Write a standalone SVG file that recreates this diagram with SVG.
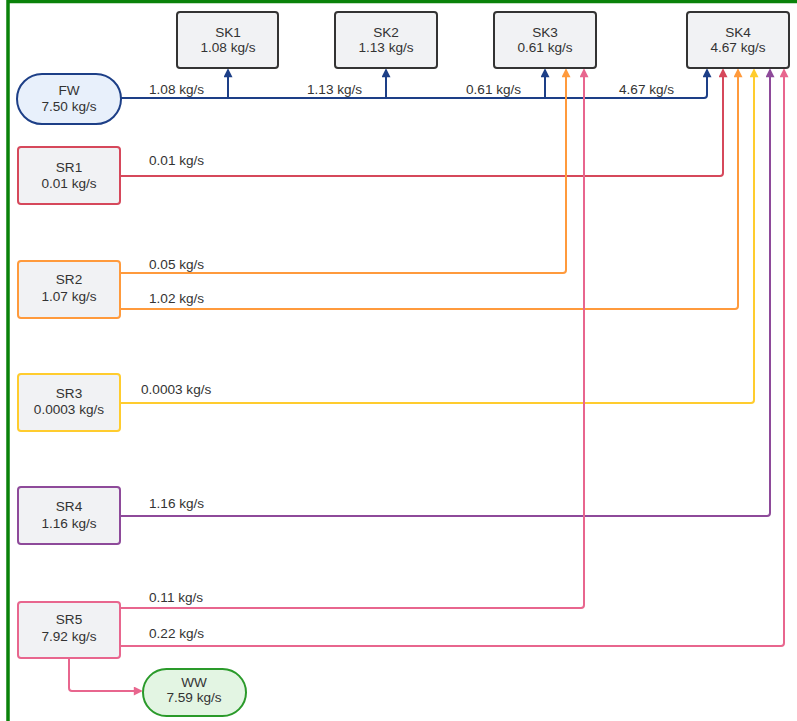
<svg xmlns="http://www.w3.org/2000/svg" width="797" height="721" viewBox="0 0 797 721">
<style>
text{font-family:"Liberation Sans",Arial,sans-serif;font-size:13.6px;fill:#333;}
.c{text-anchor:middle;}
.box{fill:#f1f2f4;stroke-width:2;}
.sk{stroke:#333;}
.ln{fill:none;stroke-width:2;}
</style>
<defs>
<marker id="aB" viewBox="0 0 10 10" refX="8" refY="5" markerWidth="10" markerHeight="9" markerUnits="userSpaceOnUse" orient="auto"><path d="M0,0 L10,5 L0,10 z" fill="#1d3f87"/></marker>
<marker id="aR" viewBox="0 0 10 10" refX="8" refY="5" markerWidth="10" markerHeight="9" markerUnits="userSpaceOnUse" orient="auto"><path d="M0,0 L10,5 L0,10 z" fill="#d6485b"/></marker>
<marker id="aO" viewBox="0 0 10 10" refX="8" refY="5" markerWidth="10" markerHeight="9" markerUnits="userSpaceOnUse" orient="auto"><path d="M0,0 L10,5 L0,10 z" fill="#ff9a3c"/></marker>
<marker id="aY" viewBox="0 0 10 10" refX="8" refY="5" markerWidth="10" markerHeight="9" markerUnits="userSpaceOnUse" orient="auto"><path d="M0,0 L10,5 L0,10 z" fill="#ffcc2e"/></marker>
<marker id="aP" viewBox="0 0 10 10" refX="8" refY="5" markerWidth="10" markerHeight="9" markerUnits="userSpaceOnUse" orient="auto"><path d="M0,0 L10,5 L0,10 z" fill="#8e4a9a"/></marker>
<marker id="aK" viewBox="0 0 10 10" refX="8" refY="5" markerWidth="10" markerHeight="9" markerUnits="userSpaceOnUse" orient="auto"><path d="M0,0 L10,5 L0,10 z" fill="#e8668e"/></marker>
</defs>
<rect x="0" y="0" width="797" height="721" fill="#fff"/>
<path d="M8 730 V1.5 H800" fill="none" stroke="#0a820a" stroke-width="3.5"/>

<g id="connectors">
<path class="ln" stroke="#1d3f87" d="M121 98 H704 Q707 98 707 95 V70" marker-end="url(#aB)"/>
<path class="ln" stroke="#1d3f87" d="M228 98 V70" marker-end="url(#aB)"/>
<path class="ln" stroke="#1d3f87" d="M386 98 V70" marker-end="url(#aB)"/>
<path class="ln" stroke="#1d3f87" d="M545 98 V70" marker-end="url(#aB)"/>
<path class="ln" stroke="#d6485b" d="M120 176 H720 Q723 176 723 173 V70" marker-end="url(#aR)"/>
<path class="ln" stroke="#ff9a3c" d="M120 273 H563 Q566 273 566 270 V70" marker-end="url(#aO)"/>
<path class="ln" stroke="#ff9a3c" d="M120 309 H735 Q738 309 738 306 V70" marker-end="url(#aO)"/>
<path class="ln" stroke="#ffcc2e" d="M120 403 H751 Q754 403 754 400 V70" marker-end="url(#aY)"/>
<path class="ln" stroke="#8e4a9a" d="M120 516 H767 Q770 516 770 513 V70" marker-end="url(#aP)"/>
<path class="ln" stroke="#e8668e" d="M120 608 H581 Q584 608 584 605 V70" marker-end="url(#aK)"/>
<path class="ln" stroke="#e8668e" d="M120 646 H781 Q784 646 784 643 V70" marker-end="url(#aK)"/>
<path class="ln" stroke="#e8668e" d="M69 658 V688 Q69 691 72 691 H141" marker-end="url(#aK)"/>
<text x="149" y="94">1.08 kg/s</text>
<text x="307" y="94">1.13 kg/s</text>
<text x="466" y="94">0.61 kg/s</text>
<text x="619" y="94">4.67 kg/s</text>
<text x="149" y="165">0.01 kg/s</text>
<text x="149" y="269">0.05 kg/s</text>
<text x="149" y="303">1.02 kg/s</text>
<text x="141" y="394">0.0003 kg/s</text>
<text x="149" y="508">1.16 kg/s</text>
<text x="149" y="602">0.11 kg/s</text>
<text x="149" y="638">0.22 kg/s</text>
</g>

<g id="SK1"><rect class="box sk" x="177" y="12" width="101" height="56" rx="3"/><text class="c" x="228" y="37">SK1</text><text class="c" x="228" y="52">1.08 kg/s</text></g>
<g id="SK2"><rect class="box sk" x="335" y="12" width="102" height="56" rx="3"/><text class="c" x="386" y="37">SK2</text><text class="c" x="386" y="52">1.13 kg/s</text></g>
<g id="SK3"><rect class="box sk" x="494" y="12" width="102" height="56" rx="3"/><text class="c" x="545" y="37">SK3</text><text class="c" x="545" y="52">0.61 kg/s</text></g>
<g id="SK4"><rect class="box sk" x="687" y="12" width="102" height="56" rx="3"/><text class="c" x="738" y="37">SK4</text><text class="c" x="738" y="52">4.67 kg/s</text></g>

<g id="FW"><rect x="17" y="74" width="104" height="50" rx="25" fill="#e8f0fb" stroke="#1d3f87" stroke-width="2"/><text class="c" x="69" y="95">FW</text><text class="c" x="69" y="111">7.50 kg/s</text></g>
<g id="SR1"><rect class="box" stroke="#d6485b" x="18" y="147" width="102" height="57" rx="3"/><text class="c" x="69" y="172">SR1</text><text class="c" x="69" y="188">0.01 kg/s</text></g>
<g id="SR2"><rect class="box" stroke="#ff9a3c" x="18" y="261" width="102" height="57" rx="3"/><text class="c" x="69" y="284">SR2</text><text class="c" x="69" y="301">1.07 kg/s</text></g>
<g id="SR3"><rect class="box" stroke="#ffcc2e" x="18" y="374" width="102" height="57" rx="3"/><text class="c" x="69" y="398">SR3</text><text class="c" x="69" y="414">0.0003 kg/s</text></g>
<g id="SR4"><rect class="box" stroke="#8e4a9a" x="18" y="487" width="102" height="57" rx="3"/><text class="c" x="69" y="511">SR4</text><text class="c" x="69" y="528">1.16 kg/s</text></g>
<g id="SR5"><rect class="box" stroke="#e8668e" x="18" y="602" width="102" height="56" rx="3"/><text class="c" x="69" y="624">SR5</text><text class="c" x="69" y="641">7.92 kg/s</text></g>
<g id="WW"><rect x="143" y="669" width="103" height="47" rx="23.5" fill="#e3f5e3" stroke="#2a9a2a" stroke-width="2"/><text class="c" x="194" y="687">WW</text><text class="c" x="194" y="702">7.59 kg/s</text></g>
</svg>
